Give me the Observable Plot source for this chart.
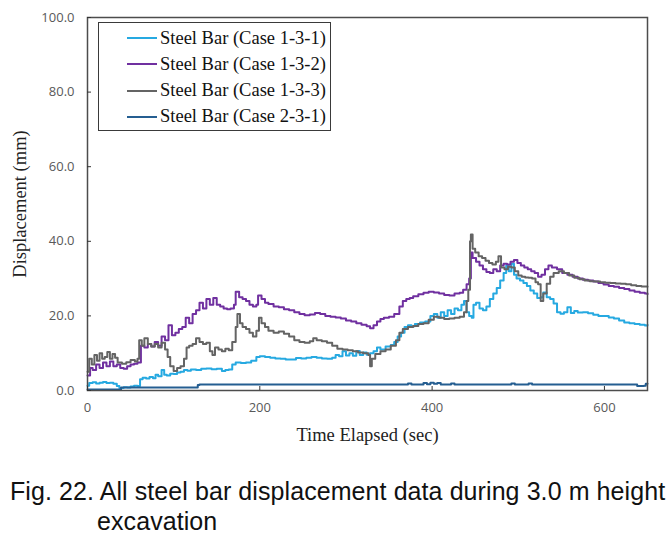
<!DOCTYPE html>
<html><head><meta charset="utf-8">
<script src="https://cdn.jsdelivr.net/npm/d3@7"></script>
<script src="https://cdn.jsdelivr.net/npm/@observablehq/plot@0.6"></script>
<style>
body{margin:0;background:#fff;}
#wrap{position:relative;width:671px;height:539px;overflow:hidden;background:#fff;}
#legend{position:absolute;left:98px;top:22px;width:231px;height:107px;border:1.5px solid #3a3a3a;background:#fff;font-family:"Liberation Serif","Times New Roman",serif;font-size:18.5px;color:#111;}
.row{position:absolute;left:0;height:22px;display:flex;align-items:center;white-space:nowrap;}
.sw{width:30px;height:2.2px;margin-left:28px;margin-right:3px;}
.cap{position:absolute;font-family:"Liberation Sans",Arial,sans-serif;font-size:25px;letter-spacing:0.08px;color:#111;line-height:30px;height:30px;white-space:nowrap;}
</style></head>
<body>
<div id="wrap"><div id="chart"></div><div id="legend"></div>
<div class="cap" style="left:10px;top:476px">Fig. 22. All steel bar displacement data during 3.0 m height</div>
<div class="cap" style="left:97px;top:506px">excavation</div></div>
<script>
const seriesNames = ["Steel Bar (Case 1-3-1)", "Steel Bar (Case 1-3-2)", "Steel Bar (Case 1-3-3)", "Steel Bar (Case 2-3-1)"];
const seriesColors = ["#26a9e1", "#7030a0", "#646464", "#255e91"];
const xTicks = [0, 200, 400, 600];
const yTicks = [0, 20, 40, 60, 80, 100];

// Case 1-3-1 (light blue)
const t131 = [0,2,6,10,14,18,22,26,30,34,37,42,46,50,54,58,61,64,68,72,76,79,82,86,89,92,96,100,104,108,112,116,120,126,132,138,144,150,156,160,164,168,172,178,184,190,196,200,206,212,218,224,230,236,242,248,254,260,266,272,278,284,288,292,296,300,304,308,312,316,320,324,328,332,336,340,346,352,356,360,364,368,372,376,380,386,392,398,402,406,410,414,418,422,426,430,434,437,440,443,446,448,451,455,459,463,467,471,475,479,483,486,489,492,495,498,502,506,510,514,518,522,526,529,533,537,541,545,549,553,557,561,565,569,575,581,587,593,599,605,611,617,623,629,635,641,647,650];
const v131 = [1.3,2,2.2,1.9,2.1,2.3,2,2.1,1.8,1.2,0.7,0.9,0.8,1.1,1.3,1.2,3,3.4,3.2,3.6,3.3,4.2,3.8,5.5,4.2,4,4.5,4.4,4.8,5,5.5,5.3,5.6,5.5,5.8,5.9,5.7,5.8,5.2,5.5,5.6,7,7.5,7.4,7.5,8,9,9.2,9,8.8,8.6,8.5,8.3,8.3,8.7,8.6,8.8,9,8.8,8.6,8.5,8.8,9.5,9.2,10.5,9.4,10,9.3,10.6,9.5,10.2,9.6,10,10.5,11.5,11,11.8,12.2,13,14.5,15.5,17,17.5,17.2,17.8,18.2,18.5,20,20.5,19.5,21,20,21.5,20.5,22,21.5,23,24,21,20,19.5,23,23.5,22,21.5,22.5,24.5,26,27.5,29.5,31.5,33.5,32,34,31,30,29.5,28.8,28,26.8,26,24.8,25,26.3,25,24.5,23.3,21,20.6,21,22.3,20.8,21.3,20.9,21,20.7,20.3,20,20,19.6,19.3,18.8,18.2,18,17.8,17.6,17.4,17.6];

// Case 1-3-2 (purple)
const t132 = [0,3,6,10,14,18,22,26,30,34,38,42,46,50,54,58,62,66,70,74,78,82,86,90,94,98,102,106,110,114,118,122,126,130,134,138,142,146,150,154,158,162,166,170,172,176,180,184,188,192,196,198,202,206,210,216,222,228,234,240,246,252,258,264,270,276,282,288,294,300,306,312,318,324,328,332,336,340,344,350,356,362,366,370,374,378,384,390,396,402,408,414,420,426,432,436,440,443,445,447,451,455,459,463,467,471,475,479,483,487,491,495,499,503,507,511,515,519,523,527,531,535,539,545,551,557,563,569,575,581,587,593,599,605,611,617,623,629,635,641,647,650];
const v132 = [4,6,5.5,7,6,7.5,6.5,7.8,6.5,7,6,5.8,6.5,7,7.2,7.5,12,11.5,12.5,11.8,13,12,14.5,13.5,17.5,14.8,15.5,16.5,17,19.5,18,20.5,21.5,23.5,22,24.5,23,24.8,23,22.5,22,21.8,22,23,26.5,25,24.5,24,23,22.5,23,25.5,24.5,23.5,23.2,22.5,22.3,21.8,21.5,21,20.5,20.2,20.4,20.8,20.5,20,19.8,19.6,19.3,18.8,18.5,18,17.6,17.2,16.7,17.5,18.5,19.2,19.5,19.8,20.5,22.5,24,24.5,24.8,25.3,25.8,26.2,26.5,26.3,26,25.6,25.5,26,26.2,27,28.5,30,37,35.5,34.5,33.5,32.5,31.8,31.5,32.5,32,33.5,34,33.8,34.5,35,34.2,33.5,33,32.5,32,31.5,30.5,31,32.5,33.5,33,32.5,31.5,31,30.5,30,29.7,29.5,29.2,28.8,28.4,28,27.8,27.5,27.2,26.8,26.5,26.2,26,25.8];

// Case 1-3-3 (gray)
const t133 = [0,2,5,8,11,14,17,20,23,26,29,32,35,40,45,50,55,58,60,63,66,70,74,78,82,86,90,93,96,100,104,108,112,115,118,122,126,130,134,138,142,145,148,152,156,160,164,168,172,174,177,180,184,188,192,196,199,202,206,210,216,222,228,234,240,246,252,258,262,266,272,278,284,290,296,302,308,314,320,326,328,330,334,340,346,352,358,362,366,372,378,384,390,396,402,408,414,420,426,432,437,440,442,444,445,447,450,454,458,462,466,470,474,477,480,484,488,492,496,500,504,508,512,516,520,523,526,529,533,537,541,547,553,559,565,571,577,583,589,595,601,607,613,619,625,631,637,643,650];
const v133 = [5,8.5,7,9.5,8,10,8.5,9,10.3,8.5,9.8,8.8,7.5,7.2,7.6,8.2,7.8,8.5,13.5,12,14,12.5,11.8,12.5,11.5,12.8,11,9,6.5,5.2,6,6.5,8.5,11.5,12,12.5,14,13,12.5,12.8,10.5,9.5,11.5,11,10.5,11.2,10.8,13,17,20.5,18,17,16.5,15.5,14.5,16,19.5,18,17,16,15.5,15.8,15.2,14.5,13.5,13,12.8,13.2,14,13.5,13.2,12.8,12,11.2,11,10.8,10.5,10.2,10,9.5,6.5,8.5,9.8,10.5,11,12,13.5,15.5,16.5,17,17.3,17.8,18,19,19.8,19.5,19.2,19.3,19.5,19.8,21,24,27,40,41.8,38,37,36,35.5,34.8,34.2,33.8,34.5,36,33,32.5,33.2,33,32,30.8,30.5,30.3,30.2,30,29,28.5,24,26,28.6,30.5,31.5,32,31.5,30.8,30.2,29.8,29.5,29.3,29.2,29,28.9,28.8,28.7,28.6,28.5,28.2,28,27.9,27.8];

// Case 2-3-1 (dark blue)
const t231 = [0,38,39,127,128,130,370,372,376,388,390,394,398,402,406,410,420,422,426,490,492,496,510,512,516,636,638,646,648,650];
const v231 = [0.3,0.3,0.8,0.8,1.5,1.6,1.6,1.9,1.6,1.6,2,1.7,2.1,1.8,2,1.6,1.6,1.9,1.6,1.6,1.9,1.6,1.6,1.9,1.6,1.6,1.2,1.3,1.8,1.8];

const xLabel = "Time Elapsed (sec)";
const yLabel = "Displacement (mm)";

const seriesData = [[t131, v131], [t132, v132], [t133, v133], [t231, v231]];
const rows = [];
seriesData.forEach(([t, v], i) => t.forEach((x, j) => rows.push({series: seriesNames[i], t: x, v: v[j]})));

const labelFont = {fontFamily: "'Liberation Serif', serif", fontSize: 18.5, fill: "#222", textAnchor: "middle", lineAnchor: "middle"};

const chart = Plot.plot({
  width: 671, height: 450,
  marginTop: 17, marginBottom: 60, marginLeft: 87, marginRight: 24,
  x: {domain: [0, 650]},
  y: {domain: [0, 100]},
  color: {domain: seriesNames, range: seriesColors},
  style: {fontFamily: "'Open Sans', sans-serif", fontSize: "13px", color: "#595959", background: "#fff"},
  marks: [
    Plot.lineY(rows, {x: "t", y: "v", z: "series", stroke: "series", curve: "step-after", strokeWidth: 2}),
    Plot.frame({stroke: "#4d4d4d", strokeWidth: 1.5}),
    Plot.axisX({ticks: xTicks, tickSize: 0, tickPadding: 12, tickFormat: d => String(d), label: null}),
    Plot.axisX({ticks: xTicks, tickSize: -4, tickFormat: () => "", label: null, stroke: "#333"}),
    Plot.axisY({ticks: yTicks, tickSize: 0, tickPadding: 13, tickFormat: d3.format(".1f"), label: null}),
    Plot.axisY({ticks: yTicks, tickSize: -4, tickFormat: () => "", label: null, stroke: "#333"}),
    Plot.text([xLabel], {text: d => d, frameAnchor: "bottom", dy: 45, ...labelFont}),
    Plot.text([yLabel], {text: d => d, frameAnchor: "left", dx: -67, rotate: -90, ...labelFont})
  ]
});
document.getElementById("chart").appendChild(chart);

const legend = document.getElementById("legend");
seriesNames.forEach((name, i) => {
  const row = document.createElement("div");
  row.className = "row";
  row.style.top = (4 + i * 26.3) + "px";
  const sw = document.createElement("span");
  sw.className = "sw";
  sw.style.background = seriesColors[i];
  const tx = document.createElement("span");
  tx.textContent = name;
  row.appendChild(sw); row.appendChild(tx);
  legend.appendChild(row);
});
</script>
</body></html>
